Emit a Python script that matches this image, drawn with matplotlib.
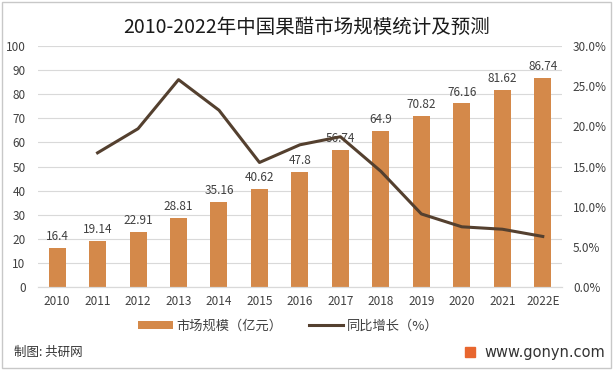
import matplotlib.pyplot as plt
import numpy as np
from matplotlib.patches import Rectangle

plt.rcParams['font.family'] = ['Noto Sans CJK SC', 'DejaVu Sans']

years = ['2010', '2011', '2012', '2013', '2014', '2015', '2016',
         '2017', '2018', '2019', '2020', '2021', '2022E']
size = [16.4, 19.14, 22.91, 28.81, 35.16, 40.62, 47.8,
        56.74, 64.9, 70.82, 76.16, 81.62, 86.74]
# growth (%) from 2011 on
growth = [16.7, 19.7, 25.8, 22.0, 15.5, 17.7, 18.7, 14.4, 9.1, 7.5, 7.2, 6.3]

bar_color = '#D4894A'
line_color = '#54402F'
text_color = '#404040'

fig = plt.figure(figsize=(6.14, 3.70), dpi=100)
ax = fig.add_axes([0.062, 0.224, 0.853, 0.652])
ax2 = ax.twinx()

x = np.arange(len(years))
ax.bar(x, size, width=0.42, color=bar_color, zorder=2, label='市场规模（亿元）')
for xi, v in zip(x, size):
    ax.text(xi, v + 2, f'{v:g}', ha='center', va='bottom', fontsize=8.5, color=text_color)

ax2.plot(x[1:], growth, color=line_color, lw=2.2, zorder=3, label='同比增长（%）')

ax.set_ylim(0, 100)
ax.set_yticks(range(0, 101, 10))
ax2.set_ylim(0, 30)
ax2.set_yticks(range(0, 31, 5))
ax2.set_yticklabels([f'{v:.1f}%' for v in range(0, 31, 5)])
ax.set_xlim(-0.47, 12.47)
ax.set_xticks(x)
ax.set_xticklabels(years)

ax.grid(axis='y', color='#D9D9D9', lw=0.8, zorder=0)
ax.set_axisbelow(True)
for a in (ax, ax2):
    for s in ('top', 'left', 'right'):
        a.spines[s].set_visible(False)
    a.spines['bottom'].set_color('#D9D9D9')
    a.tick_params(length=0, labelsize=8.5, labelcolor=text_color)
ax.tick_params(axis='y', pad=9)
ax.tick_params(axis='x', pad=6)
ax2.tick_params(axis='y', pad=8)

h1, l1 = ax.get_legend_handles_labels()
h2, l2 = ax2.get_legend_handles_labels()
fig.legend(h1 + h2, l1 + l2, loc='center', bbox_to_anchor=(0.47, 0.118), ncol=2,
           frameon=False, fontsize=9.5, handlelength=2.6, handleheight=0.6,
           columnspacing=2.0, handletextpad=0.3, labelcolor=text_color)

fig.text(0.5, 0.925, '2010-2022年中国果醋市场规模统计及预测', ha='center', va='center',
         fontsize=14, color='#1a1a1a')
fig.text(0.022, 0.048, '制图: 共研网', ha='left', va='center', fontsize=9, color='#333333')
fig.text(0.985, 0.048, 'www.gonyn.com', ha='right', va='center', fontsize=10.5, color='#333333',
         family='DejaVu Sans')
fig.patches.append(Rectangle((0.758, 0.034), 0.016, 0.028, transform=fig.transFigure,
                             color='#E8662E'))

fig.patches.append(Rectangle((0.003, 0.005), 0.992, 0.99, transform=fig.transFigure,
                             fill=False, ec='#C8C8C8', lw=1))

fig.savefig('out.png', dpi=100)
